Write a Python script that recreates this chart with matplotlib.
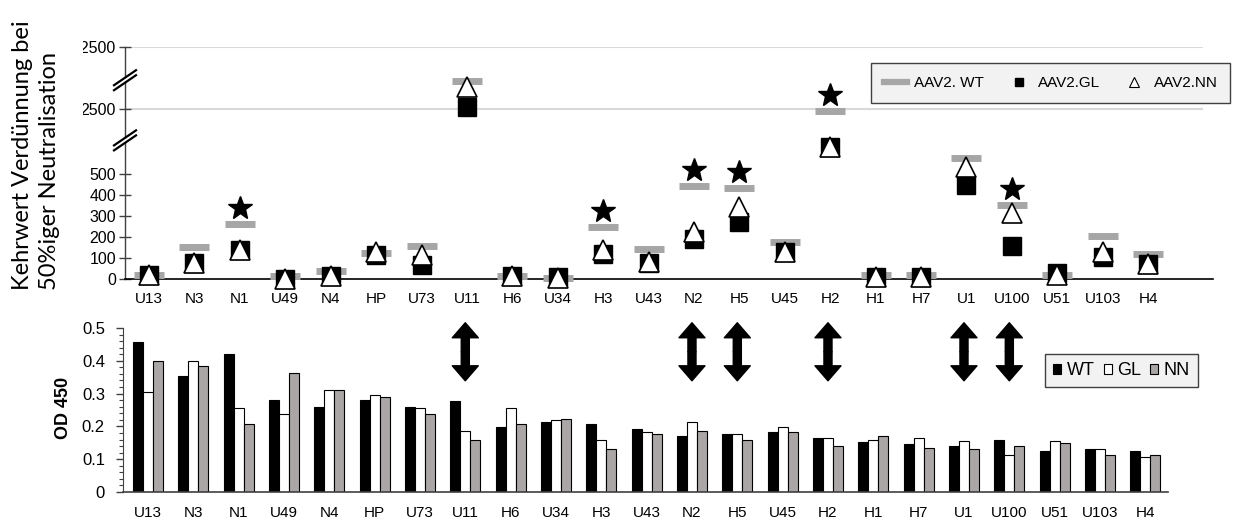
import numpy as np
import matplotlib
matplotlib.use('Agg')
import matplotlib.pyplot as plt
from matplotlib.lines import Line2D
from matplotlib.patches import Patch, Rectangle, FancyArrowPatch
from matplotlib.ticker import MultipleLocator
from matplotlib import transforms

plt.rcParams['font.family'] = ['Liberation Sans', 'DejaVu Sans']

seren = ['U13', 'N3', 'N1', 'U49', 'N4', 'HP', 'U73', 'U11', 'H6', 'U34', 'H3', 'U43',
         'N2', 'H5', 'U45', 'H2', 'H1', 'H7', 'U1', 'U100', 'U51', 'U103', 'H4']

# Kehrwert der Verduennung bei 50% Neutralisation
titer_wt = [20, 152, 262, 16, 40, 124, 159, 7000, 15, 5, 249, 144,
            444, 435, 178, 2400, 20, 20, 578, 354, 20, 206, 120]
titer_gl = [20, 76, 140, 0, 17, 116, 68, 2900, 15, 10, 120, 78,
            192, 273, 130, 630, 12, 12, 449, 159, 30, 106, 73]
titer_nn = [20, 76, 140, 0, 17, 131, 116, 6100, 15, 5, 140, 82,
            225, 344, 130, 630, 10, 12, 535, 316, 20, 130, 73]
signifikant = ['N1', 'H3', 'N2', 'H5', 'H2', 'U100']

# ELISA OD 450
od_wt = [0.457, 0.354, 0.421, 0.281, 0.260, 0.281, 0.260, 0.277, 0.198, 0.213, 0.208, 0.193,
         0.171, 0.177, 0.182, 0.166, 0.151, 0.145, 0.140, 0.160, 0.124, 0.130, 0.124]
od_gl = [0.306, 0.400, 0.255, 0.239, 0.310, 0.296, 0.255, 0.187, 0.255, 0.218, 0.160, 0.182,
         0.212, 0.177, 0.197, 0.166, 0.160, 0.166, 0.155, 0.113, 0.155, 0.130, 0.108]
od_nn = [0.400, 0.385, 0.207, 0.363, 0.310, 0.291, 0.239, 0.160, 0.207, 0.223, 0.130, 0.177,
         0.187, 0.160, 0.182, 0.140, 0.170, 0.135, 0.130, 0.140, 0.150, 0.113, 0.113]
pfeile = ['U11', 'N2', 'H5', 'H2', 'U1', 'U100']

# gebrochene y-Achse: Stuetzstellen Wert -> Hoehe
brk_v = [0, 650, 2500, 12500]
brk_h = [0, 136.5, 170, 232.3]


def fwd(v):
    return np.interp(v, brk_v, brk_h)


def inv(h):
    return np.interp(h, brk_h, brk_v)


W, H = 1239, 523


def box(l, t, r, b):
    return [l / W, 1 - b / H, (r - l) / W, (b - t) / H]


fig = plt.figure(figsize=(W / 100, H / 100), dpi=100)
ax1 = fig.add_axes(box(125, 47, 1213, 279.3))
ax2 = fig.add_axes(box(123, 328, 1168, 492))

x = np.arange(len(seren))
grau = '#a6a6a6'
dunkel = '#404040'

# ---- oben: Neutralisation
ax1.set_yscale('function', functions=(fwd, inv))
ax1.set_ylim(0, 12500)
ax1.set_xlim(-0.53, 23.43)
ax1.hlines([2500, 12500], -0.53, 23.2, color='#d9d9d9', lw=1.5, zorder=1)
ax1.plot(x, titer_wt, ls='none', marker='_', ms=22, mew=5, color=grau, clip_on=False, zorder=3)
ax1.plot(x, titer_gl, ls='none', marker='s', ms=13, color='black', clip_on=False, zorder=4)
ax1.plot(x, titer_nn, ls='none', marker='^', ms=14, mfc='white', mec='black', mew=1.2,
         clip_on=False, zorder=5)

star_tr = transforms.offset_copy(ax1.transData, fig=fig, y=11.5, units='points')
idx = [seren.index(s) for s in signifikant]
ax1.plot(x[idx], np.array(titer_wt)[idx], ls='none', marker='*', ms=18, color='black',
         transform=star_tr, clip_on=False, zorder=6)

ax1.set_yticks([0, 100, 200, 300, 400, 500, 2500, 12500])
ax1.set_yticklabels(['0', '100', '200', '300', '400', '500', '2500', '12500'])
ax1.yaxis.set_minor_locator(plt.NullLocator())
ax1.tick_params(axis='y', direction='inout', length=9, width=1, color=dunkel, labelsize=11.5, pad=2)
ax1.set_xticks(x)
ax1.set_xticklabels(seren)
ax1.tick_params(axis='x', length=0, labelsize=11, pad=9)
for s in ['top', 'right', 'left']:
    ax1.spines[s].set_visible(False)
ax1.spines['bottom'].set_color('black')
ax1.spines['bottom'].set_linewidth(1.2)

# linke Achse mit Bruchstellen
ax_w, ax_h = 1088, 232.3
for seg in [(0, 0.585), (0.611, 0.844), (0.870, 1.0)]:
    ax1.plot([0, 0], seg, transform=ax1.transAxes, color=dunkel, lw=1, clip_on=False)
for yb in [0.598, 0.857]:
    for dy in (-2.5, 2.5):
        ax1.plot([-11 / ax_w, 11 / ax_w], [yb + (dy - 7.5) / ax_h, yb + (dy + 7.5) / ax_h],
                 transform=ax1.transAxes, color='black', lw=1.6, clip_on=False)

h_top = [Line2D([], [], color=grau, lw=4.5),
         Line2D([], [], ls='none', marker='s', ms=6, color='black'),
         Line2D([], [], ls='none', marker='^', ms=7, mfc='white', mec='black', mew=0.8)]
leg1 = fig.legend(h_top, ['AAV2. WT', 'AAV2.GL', 'AAV2.NN'], ncol=3, loc='center',
                  bbox_to_anchor=box(863, 62, 1238, 104), mode='expand', frameon=True,
                  fancybox=False, edgecolor=dunkel, facecolor='#f2f2f2', framealpha=1,
                  fontsize=11, handlelength=1.5, borderpad=0.85, handletextpad=0.5)
leg1.get_frame().set_linewidth(1)

# ---- unten: ELISA
w = 0.22
ax2.bar(x - w, od_wt, w, color='black', edgecolor='black', lw=0.8)
ax2.bar(x, od_gl, w, color='white', edgecolor='black', lw=0.8)
ax2.bar(x + w, od_nn, w, color='#aaa6a6', edgecolor='black', lw=0.8)
ax2.set_ylim(0, 0.5)
ax2.set_xlim(-0.55, 22.5)
ax2.set_yticks(np.arange(0, 0.51, 0.1))
ax2.set_yticklabels(['0', '0.1', '0.2', '0.3', '0.4', '0.5'])
ax2.yaxis.set_minor_locator(MultipleLocator(0.02))
ax2.tick_params(axis='y', which='major', length=5, width=1, color=dunkel, labelsize=12, pad=8)
ax2.tick_params(axis='y', which='minor', length=3, width=0.8, color=dunkel)
ax2.set_xticks(x)
ax2.set_xticklabels(seren)
ax2.tick_params(axis='x', length=0, labelsize=11, pad=10)
for s in ['top', 'right']:
    ax2.spines[s].set_visible(False)
ax2.spines['left'].set_color(dunkel)
ax2.spines['bottom'].set_color(dunkel)
ax2.spines['bottom'].set_linewidth(1.2)

arrow_top, arrow_mid, arrow_bot = 0.516, 0.4275, 0.339
for s in pfeile:
    i = seren.index(s)
    for y_end in (arrow_top, arrow_bot):
        ax2.add_patch(FancyArrowPatch((i, arrow_mid), (i, y_end),
                                      arrowstyle='simple,head_length=1.08,head_width=1.87,tail_width=0.58',
                                      mutation_scale=10, color='black', shrinkA=0, shrinkB=0,
                                      clip_on=False, zorder=5))

h_bot = [Patch(facecolor='black', edgecolor='black', lw=0.8),
         Patch(facecolor='white', edgecolor='black', lw=0.8),
         Patch(facecolor='#aaa6a6', edgecolor='black', lw=0.8)]
leg2 = fig.legend(h_bot, ['WT', 'GL', 'NN'], ncol=3, loc='upper left',
                  bbox_to_anchor=(1045 / W, 1 - 354 / H), borderaxespad=0, frameon=True,
                  fancybox=False, edgecolor=dunkel, facecolor='#f2f2f2', framealpha=1,
                  fontsize=13, handlelength=0.45, handleheight=0.45, handletextpad=0.3,
                  columnspacing=0.5, borderpad=0.45)
leg2.get_frame().set_linewidth(1)

# Achsentitel
fig.add_artist(Rectangle((0, 1 - 125 / H), 83 / W, 95 / H, transform=fig.transFigure,
                         facecolor='white', edgecolor='none', zorder=2))
fig.text(36 / W, 1 - 290 / H, 'Kehrwert Verdünnung bei\n50%iger Neutralisation', rotation=90,
         ha='center', va='bottom', multialignment='left', fontsize=17,
         family=['Lato', 'DejaVu Sans'], linespacing=1.3, zorder=5)
fig.text(63 / W, 1 - 408 / H, 'OD 450', rotation=90, ha='center', va='center',
         fontweight='bold', fontsize=13)

fig.savefig('out.png', dpi=100)
